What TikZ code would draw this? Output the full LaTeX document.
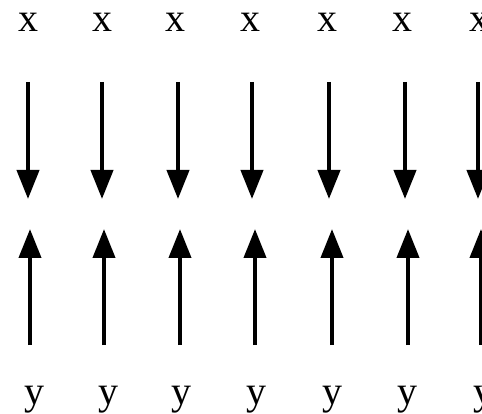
\documentclass[tikz,border=0pt]{standalone}
\usepackage{fontspec}
\setmainfont{Liberation Serif}
\usetikzlibrary{arrows.meta}
\begin{document}
\begin{tikzpicture}[x=1pt,y=1pt,
  lbl/.style={inner sep=0pt,anchor=base,font=\fontsize{40}{40}\selectfont},
  arr/.style={line width=4pt,-{Triangle[length=29pt,width=22pt]}}]
\useasboundingbox (0,0) rectangle (482,-414);
\foreach \i/\xt/\xa/\xb/\xy in {1/29/28/30/34, 2/102/102/104/108, 3/175/178/180/181, 4/250/252/255/256, 5/327/329/332/332, 6/402/405/408/407, 7/479/478/481/483}{
  \node[lbl] (x\i) at (\xt,-32) {x};
  \node[lbl] (y\i) at (\xy,-404) {y};
  \coordinate (ds\i) at (\xa,-82);
  \coordinate (de\i) at (\xa,-199);
  \coordinate (us\i) at (\xb,-345);
  \coordinate (ue\i) at (\xb,-229);
  \draw[arr] (ds\i) -- (de\i);
  \draw[arr] (us\i) -- (ue\i);
}
\end{tikzpicture}
\end{document}
